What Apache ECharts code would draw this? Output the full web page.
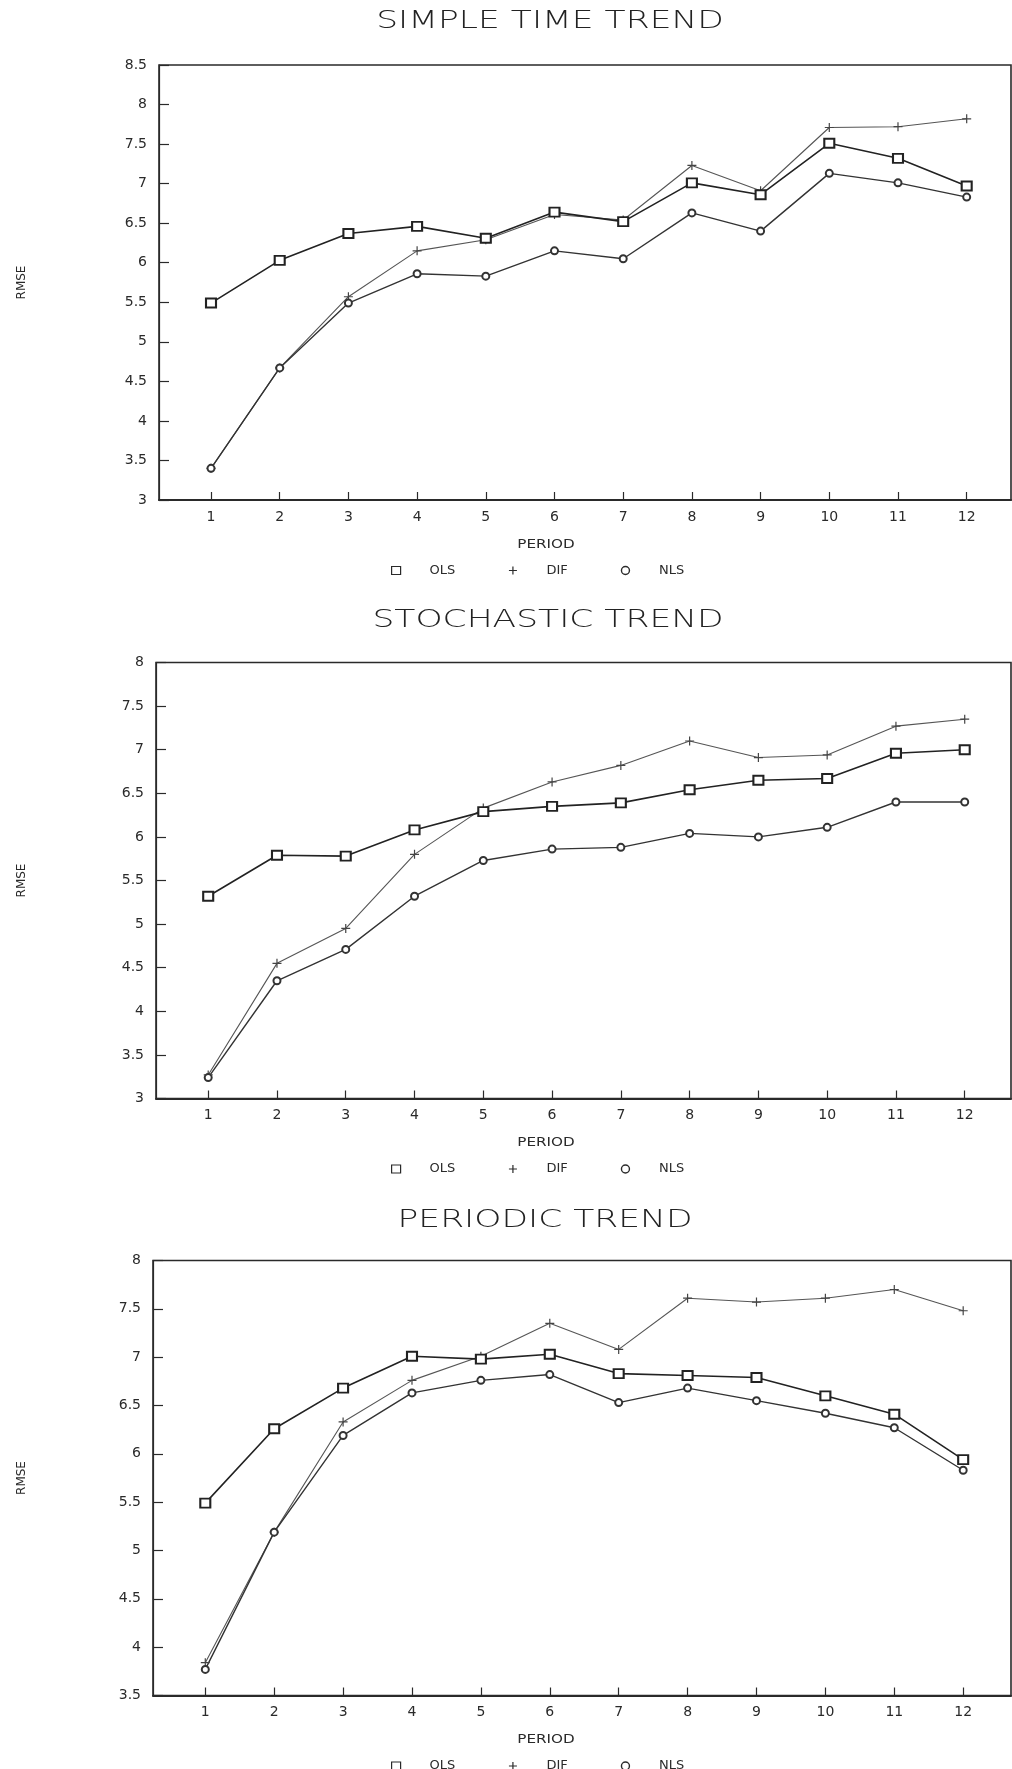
<!DOCTYPE html>
<html>
<head>
<meta charset="utf-8">
<script src="https://cdn.jsdelivr.net/npm/echarts@6/dist/echarts.min.js"></script>
<style>
html,body{margin:0;padding:0;background:#fff;}
#main{width:1012px;height:1769px;}
</style>
</head>
<body>
<div id="main"></div>
<script>
// ---- data ----
const periods = [1, 2, 3, 4, 5, 6, 7, 8, 9, 10, 11, 12];
const seriesNames = ['OLS', 'DIF', 'NLS'];
const chartTitles = ['SIMPLE TIME TREND', 'STOCHASTIC TREND', 'PERIODIC TREND'];

const simpleOLS = [5.49, 6.03, 6.37, 6.46, 6.31, 6.64, 6.52, 7.01, 6.86, 7.51, 7.32, 6.97];
const simpleDIF = [3.40, 4.67, 5.57, 6.15, 6.29, 6.61, 6.54, 7.23, 6.91, 7.71, 7.72, 7.82];
const simpleNLS = [3.40, 4.67, 5.49, 5.86, 5.83, 6.15, 6.05, 6.63, 6.40, 7.13, 7.01, 6.83];

const stochOLS = [5.32, 5.79, 5.78, 6.08, 6.29, 6.35, 6.39, 6.54, 6.65, 6.67, 6.96, 7.00];
const stochDIF = [3.27, 4.55, 4.95, 5.80, 6.33, 6.63, 6.82, 7.10, 6.91, 6.94, 7.27, 7.35];
const stochNLS = [3.24, 4.35, 4.71, 5.32, 5.73, 5.86, 5.88, 6.04, 6.00, 6.11, 6.40, 6.40];

const periodicOLS = [5.49, 6.26, 6.68, 7.01, 6.98, 7.03, 6.83, 6.81, 6.79, 6.60, 6.41, 5.94];
const periodicDIF = [3.84, 5.19, 6.33, 6.76, 7.01, 7.35, 7.08, 7.61, 7.57, 7.61, 7.70, 7.48];
const periodicNLS = [3.77, 5.19, 6.19, 6.63, 6.76, 6.82, 6.53, 6.68, 6.55, 6.42, 6.27, 5.83];

const yMins = [3, 3, 3.5];
const yMaxs = [8.5, 8, 8];

// ---- layout ----
const panels = [
  {left: 159, top: 65, height: 435, xMin: 0.243, xMax: 12.645, titleY: 21, titleX: 550},
  {left: 156, top: 662.5, height: 436, xMin: 0.241, xMax: 12.673, titleY: 620, titleX: 548},
  {left: 153, top: 1260.5, height: 435, xMin: 0.241, xMax: 12.694, titleY: 1220, titleX: 545}
];
const panelData = [
  [simpleOLS, simpleDIF, simpleNLS],
  [stochOLS, stochDIF, stochNLS],
  [periodicOLS, periodicDIF, periodicNLS]
];

const FONT = '"DejaVu Sans", "Liberation Sans", sans-serif';
const INK = '#2a2a2a';
const plusPath = 'path://M0,5L10,5M5,0L5,10';

const grids = [], xAxes = [], yAxes = [], series = [], legends = [], graphics = [];

panels.forEach((p, i) => {
  grids.push({
    left: p.left, top: p.top, width: 1011 - p.left, height: p.height,
    show: true, borderColor: INK, borderWidth: 1.6, backgroundColor: 'transparent'
  });
  xAxes.push({
    gridIndex: i, type: 'value', min: p.xMin, max: p.xMax,
    axisLine: {show: true, lineStyle: {color: INK, width: 2}},
    axisTick: {show: true, inside: true, length: 8, customValues: periods, lineStyle: {color: INK, width: 1.2}},
    axisLabel: {customValues: periods, margin: 10, color: INK, fontSize: 14, fontFamily: FONT},
    splitLine: {show: false}
  });
  yAxes.push({
    gridIndex: i, type: 'value', min: yMins[i], max: yMaxs[i], interval: 0.5,
    name: 'RMSE', nameLocation: 'middle', nameRotate: 90, nameGap: p.left - 28,
    nameTextStyle: {color: INK, fontSize: 12, fontFamily: FONT},
    axisLine: {show: true, lineStyle: {color: INK, width: 1.2}},
    axisTick: {show: true, inside: true, length: 10, lineStyle: {color: INK, width: 1.2}},
    axisLabel: {margin: 12, color: INK, fontSize: 14, fontFamily: FONT},
    splitLine: {show: false}
  });
  const [ols, dif, nls] = panelData[i];
  const pts = arr => periods.map((x, k) => [x, arr[k]]);
  series.push({
    name: 'OLS', type: 'line', xAxisIndex: i, yAxisIndex: i, data: pts(ols),
    symbol: 'emptyRect', symbolSize: [10, 9],
    lineStyle: {color: '#222', width: 1.6}, itemStyle: {color: '#222', borderWidth: 1.3},
    z: 3, animation: false
  });
  series.push({
    name: 'DIF', type: 'line', xAxisIndex: i, yAxisIndex: i, data: pts(dif),
    symbol: plusPath, symbolSize: 9,
    lineStyle: {color: '#555', width: 1.1}, itemStyle: {color: '#444', borderColor: '#444', borderWidth: 1.2},
    z: 2, animation: false
  });
  series.push({
    name: 'NLS', type: 'line', xAxisIndex: i, yAxisIndex: i, data: pts(nls),
    symbol: 'emptyCircle', symbolSize: 7,
    lineStyle: {color: '#333', width: 1.4}, itemStyle: {color: '#333', borderWidth: 1.2},
    z: 2, animation: false
  });
  const bottom = p.top + p.height;
  legends.push({
    left: 386, top: bottom + 67 - 8, orient: 'horizontal',
    itemWidth: 9, itemHeight: 8, itemGap: 53,
    selectedMode: false,
    textStyle: {color: INK, fontSize: 13, fontFamily: FONT, padding: [0, 0, 0, 24]},
    data: [
      {name: 'OLS', icon: 'rect', itemStyle: {color: '#fff', borderColor: INK, borderWidth: 1.2}},
      {name: 'DIF', icon: plusPath, itemStyle: {color: '#fff', borderColor: INK, borderWidth: 1.2}},
      {name: 'NLS', icon: 'circle', itemStyle: {color: '#fff', borderColor: INK, borderWidth: 1.4}}
    ]
  });
  graphics.push({
    type: 'text', x: p.titleX, y: p.titleY, scaleX: 1.38,
    style: {text: chartTitles[i], font: '200 25px ' + FONT, fill: '#222',
      textAlign: 'center', textVerticalAlign: 'middle', align: 'center', verticalAlign: 'middle'}
  });
  graphics.push({
    type: 'text', x: 546, y: bottom + 44.5, scaleX: 1.17,
    style: {text: 'PERIOD', font: '13px ' + FONT, fill: INK,
      textAlign: 'center', textVerticalAlign: 'middle', align: 'center', verticalAlign: 'middle'}
  });
});

const chart = echarts.init(document.getElementById('main'), null, {renderer: 'canvas'});
chart.setOption({
  backgroundColor: '#fff',
  animation: false,
  grid: grids,
  xAxis: xAxes,
  yAxis: yAxes,
  legend: legends,
  graphic: graphics,
  series: series
});
</script>
</body>
</html>
